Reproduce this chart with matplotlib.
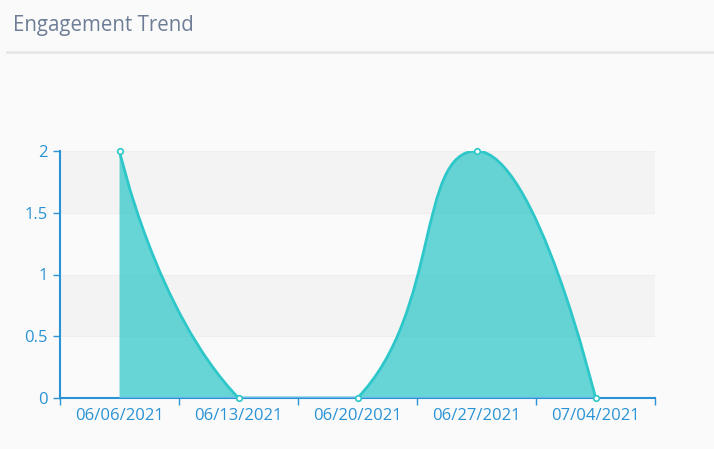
import numpy as np
import matplotlib
matplotlib.use('Agg')
import matplotlib.pyplot as plt
from matplotlib.path import Path
from matplotlib.patches import PathPatch

dates = ['06/06/2021', '06/13/2021', '06/20/2021', '06/27/2021', '07/04/2021']
engagement = [2, 0, 0, 2, 0]
y_ticks = [0, 0.5, 1, 1.5, 2]
y_tick_labels = ['0', '0.5', '1', '1.5', '2']

teal = '#2ec7c9'
axis_blue = '#2a93d5'

plt.rcParams['font.family'] = ['Open Sans', 'DejaVu Sans']

fig = plt.figure(figsize=(7.14, 4.49), dpi=100)
fig.patch.set_facecolor('#fafafa')

# title and separator
fig.text(13 / 714, 1 - 26 / 449, 'Engagement Trend', fontsize=14.8, color='#6e7d96',
         va='center', ha='left')
fig.add_artist(plt.Line2D([7 / 714, 1], [1 - 51.5 / 449, 1 - 51.5 / 449],
                          color='#e6e7ea', lw=2, transform=fig.transFigure))

ax = fig.add_axes([60 / 714, 51 / 449, 595 / 714, 247 / 449])
ax.set_facecolor('#fafafa')
ax.set_xlim(-0.5, len(dates) - 0.5)
ax.set_ylim(0, 2)

# alternating bands
for k in range(len(y_ticks) - 1):
    if k % 2 == 1:
        ax.axhspan(y_ticks[k], y_ticks[k + 1], color='#f3f3f3', zorder=0, lw=0)
for yv in y_ticks[1:]:
    ax.axhline(yv, color='#eeeeee', lw=0.8, zorder=0.5)

# smoothed curve, control points kept inside the data bounding box (pixel space)
xs = np.arange(len(engagement), dtype=float)
ys = np.array(engagement, dtype=float)
sx, sy = 119.0, 123.5
px, py = xs * sx, ys * sy
smooth = 0.5
n = len(px)
xmin, xmax, ymin, ymax = px.min(), px.max(), py.min(), py.max()


def box(x, y):
    return (min(max(x, xmin), xmax), min(max(y, ymin), ymax))


before = [None] * n
after = [None] * n
before[0] = after[0] = (px[0], py[0])
before[-1] = after[-1] = (px[-1], py[-1])
for i in range(1, n - 1):
    x, y = px[i], py[i]
    vx, vy = px[i + 1] - px[i - 1], py[i + 1] - py[i - 1]
    l0 = np.hypot(x - px[i - 1], y - py[i - 1])
    l1 = np.hypot(px[i + 1] - x, py[i + 1] - y)
    r = l1 / (l0 + l1)
    before[i] = box(x - vx * smooth * (1 - r), y - vy * smooth * (1 - r))
    after[i] = box(x + vx * smooth * r, y + vy * smooth * r)

verts = [(xs[0], ys[0])]
codes = [Path.MOVETO]
for i in range(n - 1):
    verts += [(after[i][0] / sx, after[i][1] / sy),
              (before[i + 1][0] / sx, before[i + 1][1] / sy),
              (xs[i + 1], ys[i + 1])]
    codes += [Path.CURVE4] * 3
line_path = Path(verts, codes)
fill_path = Path(verts + [(xs[-1], 0), (xs[0], 0), (xs[0], ys[0])],
                 codes + [Path.LINETO, Path.LINETO, Path.CLOSEPOLY])

ax.add_patch(PathPatch(fill_path, facecolor=teal, edgecolor='none', alpha=0.72, zorder=2))
ax.add_patch(PathPatch(line_path, facecolor='none', edgecolor=teal, lw=2, zorder=3))
ax.plot(xs, ys, 'o', ms=4, mfc='white', mec=teal, mew=1.2, zorder=4, clip_on=False)

# axes styling
for s in ['top', 'right']:
    ax.spines[s].set_visible(False)
ax.spines['left'].set_color(axis_blue)
ax.spines['bottom'].set_color(axis_blue)
ax.spines['left'].set_linewidth(1.5)
ax.spines['bottom'].set_linewidth(1.5)
ax.spines['bottom'].set_zorder(1)
ax.axhline(0, xmin=0.5 / 5, xmax=4.5 / 5, color='#6cb2ea', lw=2.2, zorder=3.5)

ax.set_yticks(y_ticks)
ax.set_yticklabels(y_tick_labels)
ax.set_xticks(xs)
ax.set_xticklabels(dates)
ax.set_xticks(np.arange(-0.5, len(dates), 1), minor=True)
ax.tick_params(axis='x', which='major', length=0, pad=7, labelsize=12, labelcolor=axis_blue)
ax.tick_params(axis='x', which='minor', length=5, color=axis_blue, width=1)
ax.tick_params(axis='y', length=5, color=axis_blue, width=1, pad=4,
               labelsize=12, labelcolor=axis_blue)

fig.savefig('out.png', dpi=100, facecolor=fig.get_facecolor())
